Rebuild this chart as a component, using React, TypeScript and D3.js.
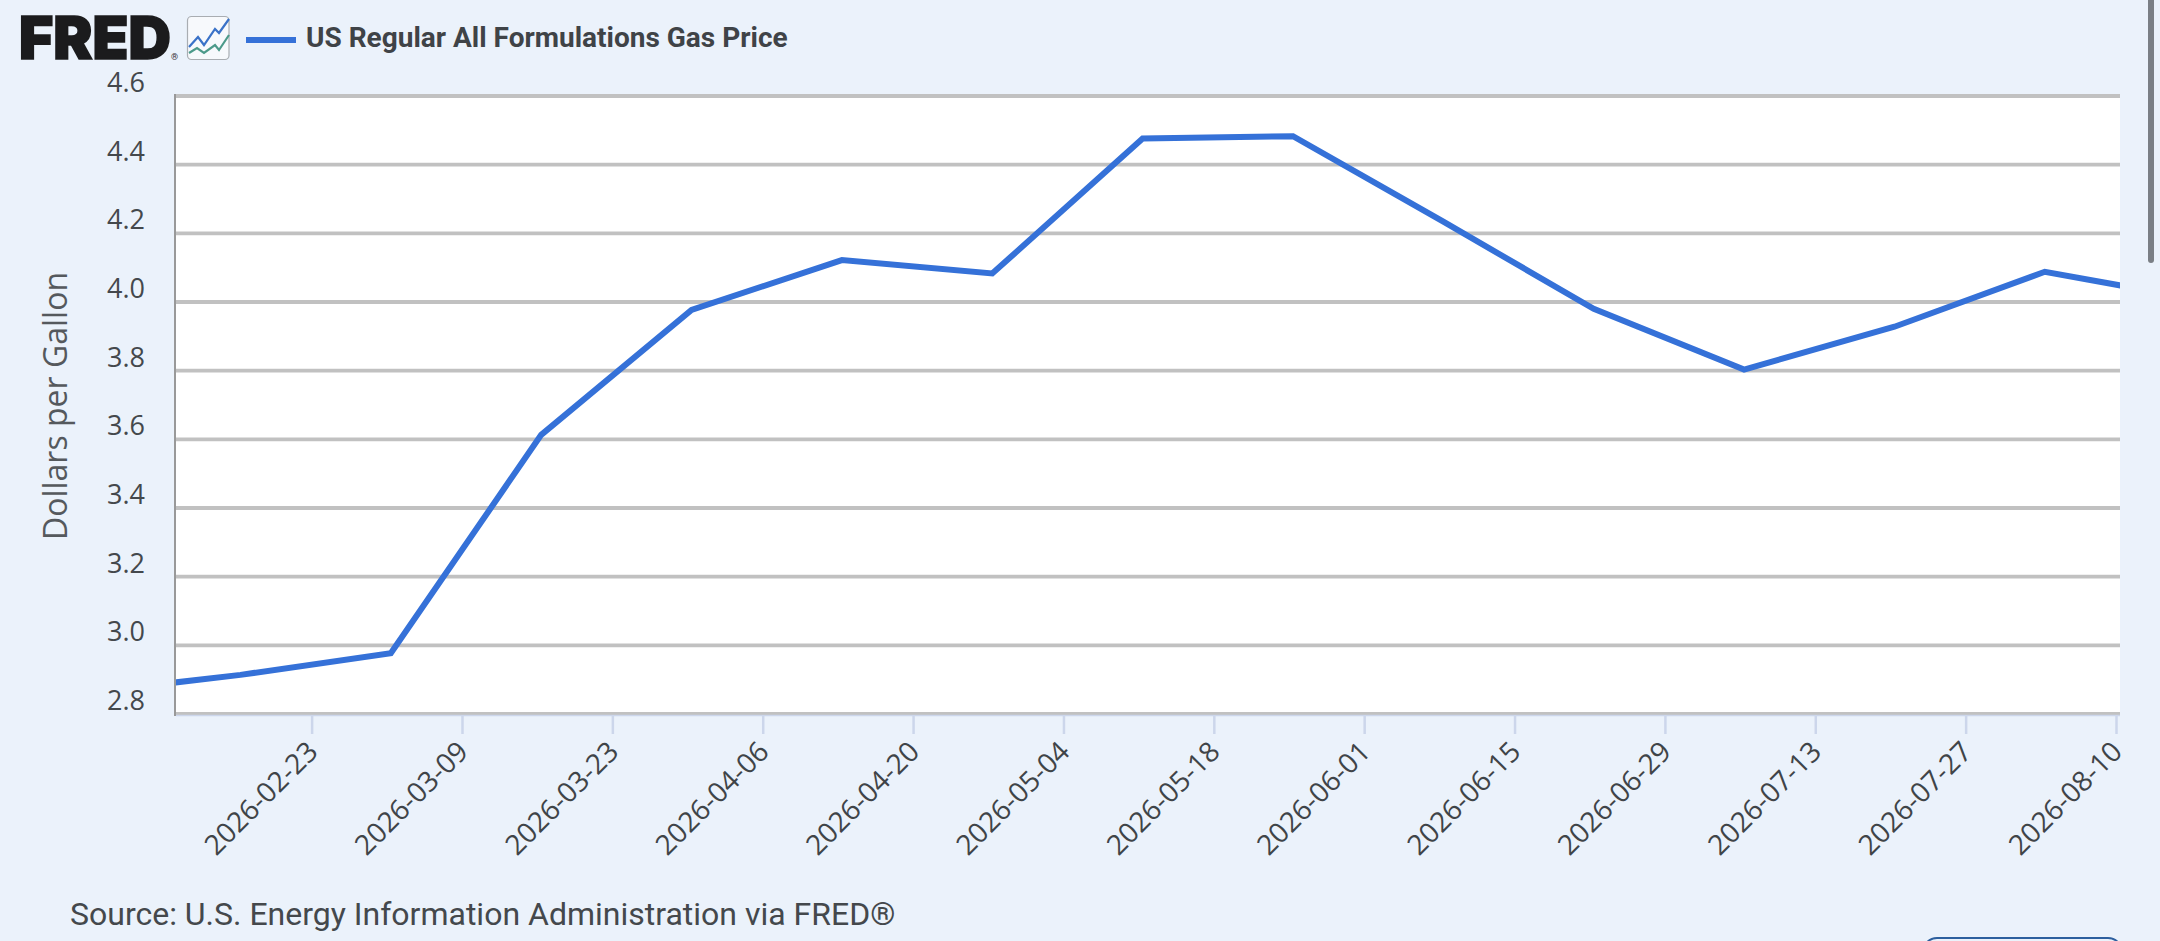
import React, { useRef, useEffect } from "react";
import * as d3 from "d3";

const dates = [
  "2026-02-02", "2026-02-16", "2026-03-02", "2026-03-16", "2026-03-30",
  "2026-04-13", "2026-04-27", "2026-05-11", "2026-05-25", "2026-06-08",
  "2026-06-22", "2026-07-06", "2026-07-20", "2026-08-03", "2026-08-17",
];
const prices = [
  2.863, 2.914, 2.977, 3.613, 3.977,
  4.122, 4.083, 4.476, 4.483, 4.234,
  3.98, 3.803, 3.928, 4.088, 4.009,
];
const xTickLabels = [
  "2026-02-23", "2026-03-09", "2026-03-23", "2026-04-06", "2026-04-20",
  "2026-05-04", "2026-05-18", "2026-06-01", "2026-06-15", "2026-06-29",
  "2026-07-13", "2026-07-27", "2026-08-10",
];
const yTickValues = [2.8, 3.0, 3.2, 3.4, 3.6, 3.8, 4.0, 4.2, 4.4, 4.6];
const xDomain = ["2026-02-10", "2026-08-10"];

const seriesName = "US Regular All Formulations Gas Price";
const yTitle = "Dollars per Gallon";
const source = "Source: U.S. Energy Information Administration via FRED®";

const W = 2160;
const H = 941;
const plot = { left: 176, right: 2120, top: 96, bottom: 714 };
const parse = d3.utcParse("%Y-%m-%d");

const App = () => {
  const canvas = useRef<SVGSVGElement>(null);

  useEffect(() => {
    const svg = d3.select(canvas.current);
    svg.selectAll("*").remove();

    const xScale = d3.scaleUtc()
      .domain(xDomain.map(d => parse(d) as Date))
      .range([plot.left, plot.right]);
    const yScale = d3.scaleLinear()
      .domain([2.8, 4.6])
      .range([plot.bottom, plot.top]);

    svg.append("rect").attr("width", W).attr("height", H).attr("fill", "#ebf2fb");
    svg.append("defs").append("clipPath").attr("id", "plot-clip")
      .append("rect")
      .attr("x", plot.left).attr("y", plot.top - 4)
      .attr("width", plot.right - plot.left).attr("height", plot.bottom - plot.top + 8);

    svg.append("rect")
      .attr("x", plot.left).attr("y", plot.top)
      .attr("width", plot.right - plot.left).attr("height", plot.bottom - plot.top)
      .attr("fill", "#ffffff");

    // grid
    svg.append("g").selectAll("line")
      .data(yTickValues)
      .enter()
      .append("line")
      .attr("x1", plot.left).attr("x2", plot.right)
      .attr("y1", d => yScale(d)).attr("y2", d => yScale(d))
      .attr("stroke", "#c1c1c1").attr("stroke-width", 3.8);

    svg.append("line")
      .attr("x1", 175).attr("x2", 175)
      .attr("y1", plot.top - 2).attr("y2", plot.bottom + 2)
      .attr("stroke", "#999999").attr("stroke-width", 2);
    svg.append("line")
      .attr("x1", plot.left).attr("x2", plot.right)
      .attr("y1", plot.bottom + 1.5).attr("y2", plot.bottom + 1.5)
      .attr("stroke", "#ccd6eb").attr("stroke-width", 1.5);

    // x axis, ticks sit a few px left of the data dates in the original
    const xAxis = d3.axisBottom(xScale)
      .tickValues(xTickLabels.map(d => parse(d) as Date))
      .tickFormat(d3.utcFormat("%Y-%m-%d") as any)
      .tickSize(18)
      .tickPadding(8);
    const gx = svg.append("g")
      .attr("transform", "translate(-4," + (plot.bottom + 2) + ")")
      .call(xAxis);
    gx.select(".domain").remove();
    gx.selectAll(".tick line").attr("stroke", "#ccd6eb").attr("stroke-width", 2.5);
    gx.selectAll(".tick text")
      .attr("fill", "#3f4448")
      .attr("font-family", "'Open Sans'")
      .attr("font-size", 28)
      .attr("text-anchor", "end")
      .attr("dx", 0)
      .attr("dy", 0)
      .attr("transform", "translate(-11,19) rotate(-45)");

    // y axis
    const yAxis = d3.axisLeft(yScale)
      .tickValues(yTickValues)
      .tickFormat(d3.format(".1f") as any)
      .tickSize(0)
      .tickPadding(0);
    const gy = svg.append("g")
      .attr("transform", "translate(145,0)")
      .call(yAxis);
    gy.select(".domain").remove();
    gy.selectAll(".tick text")
      .attr("fill", "#44484c")
      .attr("font-family", "'Open Sans'")
      .attr("font-size", 27)
      .attr("dy", "-4.5");

    svg.append("text")
      .attr("transform", "translate(67," + 406 + ") rotate(-90)")
      .attr("text-anchor", "middle")
      .attr("fill", "#55595d")
      .attr("font-family", "'Open Sans'")
      .attr("font-size", 32)
      .text(yTitle);

    // series
    const line = d3.line<number>()
      .x((_, i) => xScale(parse(dates[i]) as Date))
      .y(d => yScale(d));
    svg.append("path")
      .datum(prices)
      .attr("clip-path", "url(#plot-clip)")
      .attr("d", line)
      .attr("fill", "none")
      .attr("stroke", "#3571d8")
      .attr("stroke-width", 6)
      .attr("stroke-linejoin", "miter");

    // header
    svg.append("text")
      .attr("x", 19).attr("y", 59)
      .attr("fill", "#1b1b1d")
      .attr("stroke", "#1b1b1d")
      .attr("stroke-width", 1.6)
      .attr("font-family", "Inter")
      .attr("font-weight", 900)
      .attr("font-size", 59)
      .attr("textLength", 152)
      .attr("lengthAdjust", "spacingAndGlyphs")
      .text("FRED");
    svg.append("text")
      .attr("x", 171).attr("y", 60)
      .attr("fill", "#333333")
      .attr("font-family", "Roboto")
      .attr("font-size", 9)
      .text("®");

    const icon = svg.append("g");
    icon.append("rect")
      .attr("x", 187.5).attr("y", 16.5).attr("width", 41.5).attr("height", 43).attr("rx", 4)
      .attr("fill", "#f7f9fc").attr("stroke", "#a9adb2").attr("stroke-width", 1.2);
    icon.append("path")
      .attr("d", "M189,47L198,37L204,45L215,29L219,33L229,19")
      .attr("fill", "none").attr("stroke", "#3a72c8").attr("stroke-width", 2.2);
    icon.append("path")
      .attr("d", "M189,53L197,48L204,53L215,45L219,50L229,35")
      .attr("fill", "none").attr("stroke", "#4c9a8a").attr("stroke-width", 2.2);

    svg.append("line")
      .attr("x1", 246).attr("x2", 296).attr("y1", 40).attr("y2", 40)
      .attr("stroke", "#3571d8").attr("stroke-width", 6);
    svg.append("text")
      .attr("x", 306).attr("y", 47)
      .attr("fill", "#3f4347")
      .attr("font-family", "Roboto")
      .attr("font-weight", 700)
      .attr("font-size", 28)
      .text(seriesName);

    svg.append("text")
      .attr("x", 70).attr("y", 925)
      .attr("fill", "#44484c")
      .attr("font-family", "Roboto")
      .attr("font-size", 32)
      .text(source);

    // page furniture around the chart
    svg.append("rect")
      .attr("x", 2148).attr("y", -6).attr("width", 6).attr("height", 269).attr("rx", 3)
      .attr("fill", "#7a7f85");
    svg.append("rect")
      .attr("x", 1923).attr("y", 938).attr("width", 199).attr("height", 40).attr("rx", 14)
      .attr("fill", "none").attr("stroke", "#2d5f9e").attr("stroke-width", 2);
  }, []);

  return (
    <svg
      ref={canvas}
      width={W}
      height={H}
      style={{ position: "absolute", left: 0, top: 0, display: "block" }}
    />
  );
};

export default App;
